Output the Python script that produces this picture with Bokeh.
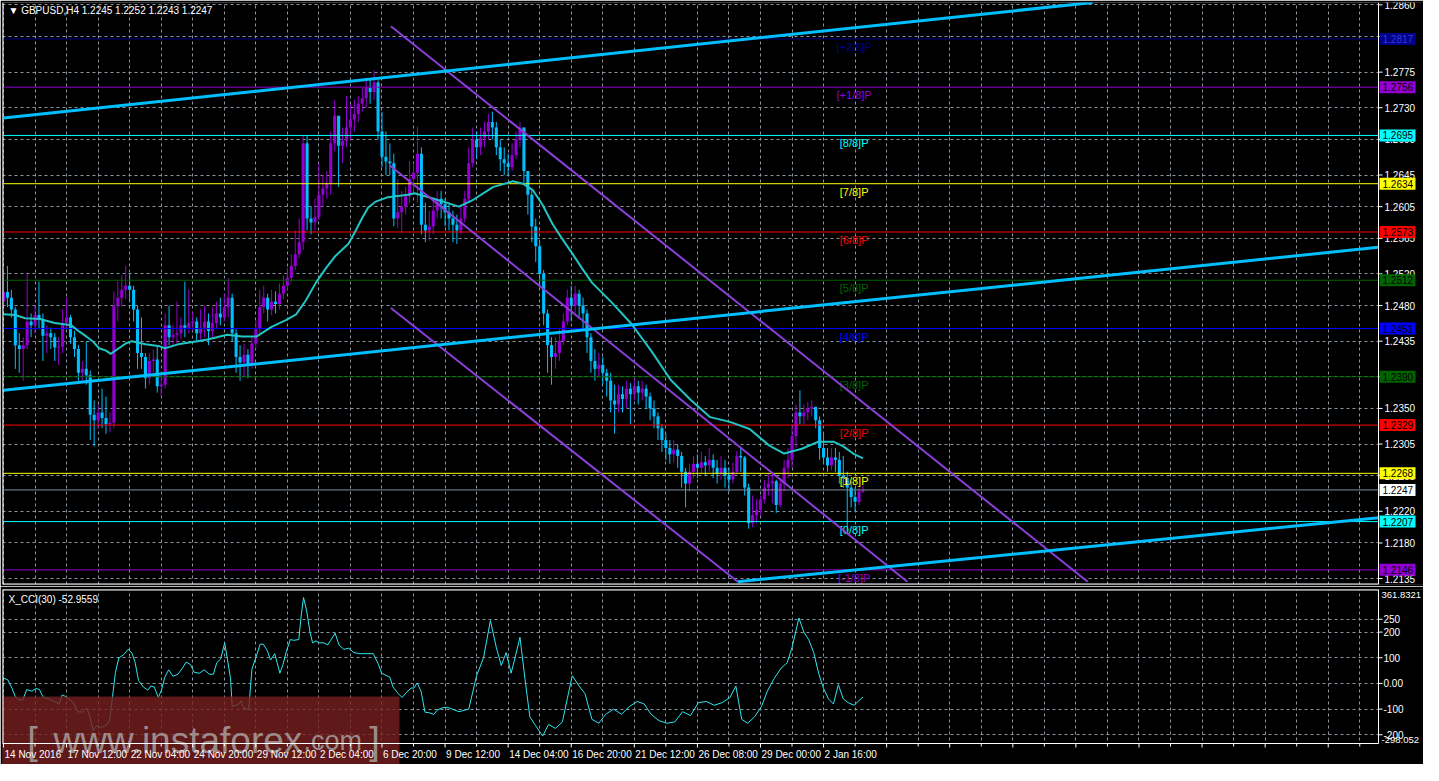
from bokeh.plotting import figure
from bokeh.models import Range1d, FixedTicker, Grid
from bokeh.layouts import column
from bokeh.embed import file_html
from bokeh.resources import INLINE
from bokeh.core.properties import value

# ---------------- data ----------------
first_open = 1.2485
close = [1.2497, 1.2490, 1.2475, 1.2430, 1.2425, 1.2430, 1.2460, 1.2455, 1.2468, 1.2462,
         1.2442, 1.2445, 1.2440, 1.2427, 1.2428, 1.2458, 1.2465, 1.2440, 1.2425, 1.2395,
         1.2400, 1.2392, 1.2342, 1.2335, 1.2345, 1.2338, 1.2330, 1.2332, 1.2480, 1.2490,
         1.2500, 1.2505, 1.2500, 1.2475, 1.2420, 1.2415, 1.2388, 1.2410, 1.2412, 1.2378,
         1.2380, 1.2455, 1.2440, 1.2443, 1.2445, 1.2455, 1.2452, 1.2458, 1.2460, 1.2445,
         1.2452, 1.2460, 1.2448, 1.2458, 1.2470, 1.2465, 1.2478, 1.2490, 1.2445, 1.2415,
         1.2408, 1.2418, 1.2405, 1.2432, 1.2450, 1.2478, 1.2490, 1.2475, 1.2485, 1.2482,
         1.2495, 1.2505, 1.2515, 1.2530, 1.2545, 1.2560, 1.2685, 1.2590, 1.2585, 1.2592,
         1.2620, 1.2628, 1.2635, 1.2685, 1.2720, 1.2682, 1.2688, 1.2705, 1.2715, 1.2722,
         1.2735, 1.2742, 1.2755, 1.2750, 1.2762, 1.2700, 1.2668, 1.2662, 1.2660, 1.2590,
         1.2598, 1.2605, 1.2618, 1.2640, 1.2648, 1.2672, 1.2582, 1.2575, 1.2580, 1.2600,
         1.2615, 1.2608, 1.2598, 1.2590, 1.2582, 1.2575, 1.2590, 1.2615, 1.2660, 1.2690,
         1.2680, 1.2692, 1.2700, 1.2712, 1.2705, 1.2680, 1.2665, 1.2660, 1.2655, 1.2670,
         1.2690, 1.2705, 1.2650, 1.2620, 1.2580, 1.2555, 1.2520, 1.2470, 1.2430, 1.2415,
         1.2420, 1.2435, 1.2460, 1.2490, 1.2480, 1.2495, 1.2480, 1.2470, 1.2440, 1.2410,
         1.2400, 1.2405, 1.2395, 1.2385, 1.2360, 1.2355, 1.2368, 1.2362, 1.2375, 1.2368,
         1.2378, 1.2370, 1.2375, 1.2365, 1.2350, 1.2340, 1.2325, 1.2310, 1.2300, 1.2292,
         1.2298, 1.2290, 1.2270, 1.2255, 1.2270, 1.2280, 1.2275, 1.2282, 1.2278, 1.2285,
         1.2275, 1.2268, 1.2275, 1.2265, 1.2260, 1.2270, 1.2290, 1.2288, 1.2250, 1.2205,
         1.2215, 1.2222, 1.2235, 1.2250, 1.2255, 1.2258, 1.2228, 1.2255, 1.2275, 1.2285,
         1.2315, 1.2345, 1.2340, 1.2345, 1.2350, 1.2352, 1.2335, 1.2300, 1.2288, 1.2278,
         1.2288, 1.2285, 1.2265, 1.2262, 1.2250, 1.2238, 1.2232, 1.2245, 1.2247]
high = [1.2525, 1.2530, 1.2500, 1.2478, 1.2445, 1.2440, 1.2520, 1.2470, 1.2480, 1.2510,
        1.2470, 1.2455, 1.2452, 1.2445, 1.2440, 1.2475, 1.2490, 1.2468, 1.2448, 1.2430,
        1.2410, 1.2435, 1.2398, 1.2360, 1.2355, 1.2375, 1.2365, 1.2345, 1.2498, 1.2512,
        1.2518, 1.2530, 1.2520, 1.2505, 1.2480, 1.2465, 1.2420, 1.2420, 1.2425, 1.2430,
        1.2395, 1.2470, 1.2480, 1.2455, 1.2485, 1.2465, 1.2510, 1.2500, 1.2472, 1.2465,
        1.2475, 1.2480, 1.2470, 1.2478, 1.2485, 1.2490, 1.2495, 1.2515, 1.2495, 1.2450,
        1.2430, 1.2432, 1.2425, 1.2440, 1.2462, 1.2500, 1.2505, 1.2495, 1.2500, 1.2498,
        1.2508, 1.2518, 1.2528, 1.2545, 1.2575, 1.2590, 1.2695, 1.2695, 1.2605, 1.2615,
        1.2660, 1.2645, 1.2650, 1.2700, 1.2740, 1.2720, 1.2705, 1.2745, 1.2735, 1.2740,
        1.2745, 1.2755, 1.2768, 1.2765, 1.2777, 1.2765, 1.2725, 1.2700, 1.2685, 1.2672,
        1.2640, 1.2625, 1.2630, 1.2663, 1.2660, 1.2706, 1.2680, 1.2610, 1.2600, 1.2615,
        1.2625, 1.2625, 1.2615, 1.2610, 1.2600, 1.2595, 1.2605, 1.2625, 1.2680, 1.2705,
        1.2700, 1.2705, 1.2712, 1.2722, 1.2725, 1.2712, 1.2690, 1.2680, 1.2672, 1.2685,
        1.2700, 1.2712, 1.2705, 1.2650, 1.2625, 1.2590, 1.2560, 1.2525, 1.2475, 1.2440,
        1.2440, 1.2450, 1.2470, 1.2500, 1.2505, 1.2505, 1.2500, 1.2490, 1.2475, 1.2445,
        1.2425, 1.2420, 1.2415, 1.2400, 1.2395, 1.2380, 1.2380, 1.2378, 1.2385, 1.2382,
        1.2388, 1.2385, 1.2385, 1.2380, 1.2370, 1.2360, 1.2345, 1.2330, 1.2318, 1.2310,
        1.2310, 1.2305, 1.2295, 1.2275, 1.2280, 1.2290, 1.2292, 1.2295, 1.2290, 1.2300,
        1.2292, 1.2285, 1.2290, 1.2285, 1.2275, 1.2282, 1.2296, 1.2300, 1.2290, 1.2255,
        1.2240, 1.2235, 1.2240, 1.2260, 1.2268, 1.2270, 1.2260, 1.2262, 1.2285, 1.2300,
        1.2330, 1.2355, 1.2373, 1.2355, 1.2358, 1.2360, 1.2352, 1.2340, 1.2320, 1.2300,
        1.2300, 1.2300, 1.2295, 1.2290, 1.2270, 1.2258, 1.2250, 1.2250, 1.2252]
low = [1.2480, 1.2478, 1.2465, 1.2400, 1.2395, 1.2385, 1.2425, 1.2440, 1.2445, 1.2450,
       1.2410, 1.2420, 1.2425, 1.2410, 1.2405, 1.2420, 1.2450, 1.2432, 1.2415, 1.2385,
       1.2385, 1.2380, 1.2310, 1.2302, 1.2325, 1.2325, 1.2318, 1.2320, 1.2325, 1.2460,
       1.2478, 1.2488, 1.2485, 1.2460, 1.2400, 1.2400, 1.2375, 1.2380, 1.2395, 1.2370,
       1.2365, 1.2375, 1.2430, 1.2430, 1.2432, 1.2438, 1.2440, 1.2445, 1.2448, 1.2435,
       1.2435, 1.2440, 1.2430, 1.2440, 1.2450, 1.2455, 1.2460, 1.2465, 1.2435, 1.2395,
       1.2385, 1.2390, 1.2388, 1.2400, 1.2425, 1.2445, 1.2470, 1.2460, 1.2468, 1.2470,
       1.2475, 1.2488, 1.2500, 1.2510, 1.2525, 1.2540, 1.2550, 1.2575, 1.2570, 1.2575,
       1.2588, 1.2605, 1.2615, 1.2620, 1.2675, 1.2630, 1.2660, 1.2680, 1.2690, 1.2700,
       1.2712, 1.2725, 1.2730, 1.2735, 1.2740, 1.2690, 1.2655, 1.2645, 1.2645, 1.2580,
       1.2578, 1.2572, 1.2595, 1.2610, 1.2620, 1.2610, 1.2570, 1.2560, 1.2562, 1.2570,
       1.2590, 1.2590, 1.2580, 1.2575, 1.2560, 1.2558, 1.2570, 1.2585, 1.2610, 1.2655,
       1.2665, 1.2670, 1.2680, 1.2690, 1.2690, 1.2670, 1.2650, 1.2645, 1.2645, 1.2650,
       1.2665, 1.2680, 1.2635, 1.2595, 1.2560, 1.2535, 1.2505, 1.2455, 1.2395, 1.2380,
       1.2400, 1.2410, 1.2430, 1.2455, 1.2460, 1.2470, 1.2465, 1.2450, 1.2420, 1.2395,
       1.2385, 1.2390, 1.2380, 1.2365, 1.2345, 1.2318, 1.2345, 1.2345, 1.2350, 1.2330,
       1.2360, 1.2355, 1.2360, 1.2350, 1.2335, 1.2325, 1.2310, 1.2295, 1.2285, 1.2280,
       1.2282, 1.2275, 1.2250, 1.2225, 1.2245, 1.2262, 1.2262, 1.2268, 1.2265, 1.2270,
       1.2262, 1.2255, 1.2260, 1.2250, 1.2245, 1.2255, 1.2268, 1.2270, 1.2240, 1.2198,
       1.2200, 1.2205, 1.2215, 1.2230, 1.2240, 1.2230, 1.2218, 1.2225, 1.2245, 1.2262,
       1.2275, 1.2300, 1.2330, 1.2330, 1.2335, 1.2340, 1.2325, 1.2285, 1.2280, 1.2270,
       1.2272, 1.2270, 1.2255, 1.2250, 1.2195, 1.2225, 1.2220, 1.2228, 1.2243]

# moving average, read at sample bars
ma_bar = [0, 3, 5.5, 9.25, 13, 17.2, 19.25, 21, 22.6, 24.25, 26, 27.2, 29.25, 31, 32.6, 36,
          39.25, 41, 44.25, 49.25, 51.75, 56.75, 60.5, 64.25, 68, 71.75, 74.25, 76.75, 79.25,
          81.75, 84.25, 87.5, 89.25, 91, 92.5, 94.25, 97.5, 102.5, 104.25, 108.5, 111.75,
          115.5, 119.25, 124.25, 129.25, 131.75, 134.25, 136.75, 139.25, 141.75, 144.25,
          146.75, 149.25, 154.25, 159.25, 164.25, 169.25, 174.25, 179.25, 184.25, 189.25,
          194.25, 198, 202.5, 206.75, 210.5, 213, 215.5, 218]
ma_val = [1.2469, 1.2468, 1.2464, 1.2463, 1.2458, 1.2455, 1.2447, 1.2441, 1.2435, 1.2426,
          1.2423, 1.2419, 1.2426, 1.2432, 1.2435, 1.2431, 1.2429, 1.2426, 1.2431, 1.2435,
          1.2437, 1.2443, 1.2441, 1.2441, 1.2453, 1.2462, 1.2469, 1.2487, 1.2509, 1.2527,
          1.2543, 1.2558, 1.2574, 1.2591, 1.2604, 1.2611, 1.2617, 1.2620, 1.2622, 1.2616,
          1.2611, 1.2605, 1.2614, 1.2630, 1.2637, 1.2634, 1.2626, 1.2607, 1.2583, 1.2564,
          1.2546, 1.2527, 1.2509, 1.2484, 1.2457, 1.2423, 1.2386, 1.2361, 1.2339, 1.2333,
          1.2324, 1.2303, 1.2293, 1.2299, 1.2308, 1.2308, 1.2302, 1.2293, 1.2287]

# CCI(30), read at sample bars
cci_bar = [0.1, 1.1, 2.2, 3.0, 3.8, 4.9, 5.9, 7.2, 8.25, 9.1, 10.1, 11.3, 12.6, 14.1, 14.9,
           15.9, 17.2, 18, 18.8, 20.1, 21.1, 21.75, 22.75, 23.6, 24.7, 25.9, 26.9, 27.6, 28.4,
           29.25, 30.5, 31.6, 32.6, 33.4, 34.25, 35.5, 36.6, 37.4, 38.25, 39.25, 40.1, 40.9,
           41.9, 43, 44.25, 45.5, 46.3, 47.4, 48.4, 49.7, 50.9, 52.2, 53.25, 54.1, 55.1, 56.1,
           56.75, 57.6, 58, 58.8, 59.7, 60.25, 60.9, 62.2, 63, 64.25, 65.1, 65.9, 66.9, 67.75,
           68.8, 70.1, 70.9, 71.75, 72.75, 73.6, 74.9, 75.5, 76.1, 76.9, 77.75, 78.4, 79.25,
           80.1, 81.3, 82.2, 83, 84.1, 85.1, 86.3, 87.6, 88.8, 90.1, 91.75, 93.8, 95.1, 95.9,
           97.2, 98, 98.8, 100.1, 101.1, 102.2, 103.4, 104.1, 104.9, 105.9, 106.9, 108, 109.1,
           110.1, 111.75, 113, 115.5, 118, 120, 121.75, 123.5, 125, 126.25, 127.5, 128.75,
           129.75, 131, 132.25, 133.5, 135, 136.75, 138.25, 140, 141.75, 143, 144.25, 146,
           147.5, 149.25, 151, 152.75, 154.75, 156.75, 158.75, 160.75, 162.5, 164.25, 166.25,
           168.25, 170.25, 172.25, 174.25, 176.25, 178.25, 180.25, 182.25, 184.25, 185.75,
           187.25, 188.75, 190.5, 192.25, 193.75, 195.5, 197.25, 198.75, 200, 201.75, 203,
           204.25, 205.5, 206.75, 208, 209.25, 210.5, 211.75, 213, 214.25, 215.75, 216.75, 218]
cci_val = [20, 14, -20, -52, -64, -64, -24, -30, -20, -23, -55, -58, -68, -80, -45,
           -52, -68, -83, -111, -111, -96, -121, -184, -165, -171, -165, -146, -58, 43,
           99, 112, 133, 118, 81, 11, -14, -26, -10, -14, -55, -25, 24,
           53, 28, 36, 62, 83, 74, 43, 40, 53, 36, 36, 81, 96, 158,
           99, 18, -89, -86, -80, -68, -96, -102, 55, 112, 153, 153, 128, 91,
           116, 40, 74, 125, 171, 168, 171, 263, 335, 282, 200, 158, 166,
           158, 158, 150, 168, 196, 150, 133, 137, 121, 116, 116, 116, 74, 40,
           30, 24, -14, -39, -55, -35, -18, -18, 2, -30, -112, -114, -121,
           -103, -93, -95, -110, -100, 30, 100, 245, 140, 70, 120, 40,
           100, 180, 20, -130, -165, -205, -160, -175, -150, -60, 30, -10,
           -40, -140, -155, -120, -100, -120, -90, -70, -80, -120, -145,
           -155, -150, -110, -125, -75, -70, -85, -75, -55, -10,
           -140, -155, -130, -90, -30, 20, 60, 80, 140, 255, 200,
           170, 120, 40, -20, -60, -80, -5, -60, -75, -85, -70, -53]

date_labels = ["14 Nov 2016", "17 Nov 12:00", "22 Nov 04:00", "24 Nov 20:00", "29 Nov 12:00",
               "2 Dec 04:00", "6 Dec 20:00", "9 Dec 12:00", "14 Dec 04:00", "16 Dec 20:00",
               "21 Dec 12:00", "26 Dec 08:00", "29 Dec 00:00", "2 Jan 16:00"]
price_ticks = [1.2860, 1.2820, 1.2775, 1.2730, 1.2690, 1.2645, 1.2605, 1.2565, 1.2520,
               1.2480, 1.2435, 1.2390, 1.2350, 1.2305, 1.2265, 1.2220, 1.2180, 1.2135]
cci_ticks = [250, 200, 100, 0, -100, -200]
cci_tick_labels = ["250", "200", "100", "0.00", "-100", "-200"]
cci_max, cci_min = 366, -234
cci_max_text = "361.8321"
cci_min_text = "-298.052"

murrey_levels = [1.2817, 1.2756, 1.2695, 1.2634, 1.2573, 1.2512, 1.2451, 1.2390,
                 1.2329, 1.2268, 1.2207, 1.2146]
murrey_names = ["[+2/8]P", "[+1/8]P", "[8/8]P", "[7/8]P", "[6/8]P", "[5/8]P", "[4/8]P",
                "[3/8]P", "[2/8]P", "[1/8]P", "[0/8]P", "[-1/8]P"]
last_price = 1.2247

# trend lines and regression channel: (bar, price) -> (bar, price)
trend_lines = [(0, 1.2717, 276.25, 1.2863), (0, 1.2373, 359, 1.2559), (186.25, 1.2131, 359, 1.2217)]
channel_lines = [(98.25, 1.2833, 275.0, 1.2131), (98.0, 1.2657, 229.25, 1.2131), (98.25, 1.2477, 186.25, 1.2131)]

title_text = "\u25bc GBPUSD,H4  1.2245 1.2252 1.2243 1.2247"
cci_title = "X_CCI(30) -52.9559"

# ---------------- styles / geometry ----------------
FONT = value("Liberation Sans")
BULL = "#9400D3"
BEAR = "#00BFFF"
GRID = "#8a949e"
MURREY_COLORS = ["#00008B", "#9400D3", "#00FFFF", "#FFFF00", "#FF0000", "#006400", "#0000FF",
                 "#006400", "#FF0000", "#FFFF00", "#00FFFF", "#9400D3"]
MURREY_TEXT = ["#3a3ad0"] + ["#000000"] * 11

FRAME_W = 1421          # whole frame, bars area + price strip
BARS_W = 1376           # pixels used by the bar area
X0, X1 = -0.25, 348.75  # bar area in bar units
PPB = BARS_W / (X1 - X0)
XE = X0 + FRAME_W / PPB
Y0, Y1 = 1.21275, 1.2863
MAIN_H = 582
CCI_PANEL_H = 154
CCI_STRIP_H = 21
UPP = (cci_max - cci_min) / CCI_PANEL_H
CY0 = cci_min - CCI_STRIP_H * UPP

n = len(close)
idx = list(range(n))
opens = [first_open] + close[:-1]
col = [BULL if c >= o else BEAR for o, c in zip(opens, close)]
tops = [max(o, c) for o, c in zip(opens, close)]
bots = [min(o, c) for o, c in zip(opens, close)]

major_x = list(range(0, 349, 16))
minor_x = list(range(8, 349, 16))
all_x = sorted(major_x + minor_x)


def base_fig(h, yr, top, bottom):
    f = figure(frame_width=FRAME_W, frame_height=h, x_range=Range1d(X0, XE), y_range=yr,
               output_backend="svg", toolbar_location=None, x_axis_location=None,
               y_axis_location=None, background_fill_color="black", border_fill_color="black",
               min_border_left=2, min_border_right=0, min_border_top=top, min_border_bottom=bottom)
    f.outline_line_color = None
    # drop the default grids; the dashed chart grids are added explicitly below
    f.center = [c for c in f.center if not isinstance(c, Grid)]
    return f


# ---------------- main price chart ----------------
p = base_fig(MAIN_H, Range1d(Y0, Y1), 2, 2)
p.add_layout(Grid(dimension=1, ticker=FixedTicker(ticks=price_ticks),
                  grid_line_color=GRID, grid_line_dash="3 3"))
p.add_layout(Grid(dimension=0, ticker=FixedTicker(ticks=major_x, minor_ticks=minor_x),
                  grid_line_color=GRID, grid_line_dash="3 3",
                  minor_grid_line_color=GRID, minor_grid_line_dash="3 3"))

# candles
p.segment(x0=idx, y0=low, x1=idx, y1=high, line_color=col, line_width=1)
p.vbar(x=idx, width=0.78, top=tops, bottom=bots, fill_color=col, line_color=None)

# Murrey math levels and current price line
p.segment(x0=[X0] * len(murrey_levels), y0=murrey_levels, x1=[X1] * len(murrey_levels),
          y1=murrey_levels, line_color=MURREY_COLORS, line_width=1)
p.segment(x0=[X0], y0=[last_price], x1=[X1], y1=[last_price], line_color="#8090a0", line_width=1)
p.text(x=[215.75] * len(murrey_levels), y=murrey_levels, text=murrey_names,
       text_color=MURREY_COLORS, text_font_size="11px", text_font=FONT,
       text_align="center", text_baseline="top", y_offset=2)

# moving average
p.line(ma_bar, ma_val, line_color="#22C4C4", line_width=2)
# regression channel
for x0, y0, x1, y1 in channel_lines:
    p.line([x0, x1], [y0, y1], line_color="#8B3FD9", line_width=2)
# trend lines
for x0, y0, x1, y1 in trend_lines:
    p.line([x0, x1], [y0, y1], line_color="#00BFFF", line_width=3)

# price strip (right axis)
p.quad(left=[X1], right=[XE + 1], bottom=[Y0 - 1], top=[Y1 + 1], fill_color="black", line_color=None)
p.segment(x0=[X1], y0=[Y0], x1=[X1], y1=[Y1], line_color="white", line_width=1)
p.segment(x0=[X0], y0=[Y0], x1=[X0], y1=[Y1], line_color="white", line_width=2)
p.segment(x0=[X0], y0=[Y0], x1=[X1], y1=[Y0], line_color="white", line_width=2)
p.segment(x0=[X1] * len(price_ticks), y0=price_ticks, x1=[X1 + 4 / PPB] * len(price_ticks),
          y1=price_ticks, line_color="white", line_width=1)
p.text(x=[X1] * len(price_ticks), y=price_ticks, text=[f"{t:.4f}" for t in price_ticks],
       x_offset=6, text_color="white", text_font=FONT, text_font_size="10px",
       text_align="left", text_baseline="middle")
box_lv = murrey_levels + [last_price]
box_c = MURREY_COLORS + ["#FFFFFF"]
box_tc = MURREY_TEXT + ["#000000"]
p.rect(x=[X1 + 19 / PPB] * len(box_lv), y=box_lv, width=36, height=12,
       width_units="screen", height_units="screen", fill_color=box_c, line_color=None)
p.text(x=[X1] * len(box_lv), y=box_lv, text=[f"{v:.4f}" for v in box_lv], x_offset=4,
       text_color=box_tc, text_font=FONT, text_font_size="10px",
       text_align="left", text_baseline="middle")
p.text(x=[X0], y=[Y1], text=[title_text], x_offset=6, y_offset=2, text_color="white",
       text_font=FONT, text_font_size="10px", text_align="left", text_baseline="top")

# ---------------- CCI panel ----------------
q = base_fig(CCI_PANEL_H + CCI_STRIP_H, Range1d(CY0, cci_max), 3, 0)
q.add_layout(Grid(dimension=1, ticker=FixedTicker(ticks=cci_ticks),
                  grid_line_color=GRID, grid_line_dash="3 3"))
q.add_layout(Grid(dimension=0, ticker=FixedTicker(ticks=major_x, minor_ticks=minor_x),
                  grid_line_color=GRID, grid_line_dash="3 3",
                  minor_grid_line_color=GRID, minor_grid_line_dash="3 3"))

q.line(cci_bar, cci_val, line_color="#2EE6F0", line_width=1)

# strips
q.quad(left=[X0 - 1, X1], right=[XE + 1, XE + 1], bottom=[CY0 - 50, CY0 - 50],
       top=[cci_min, cci_max + 50], fill_color="black", line_color=None)

# watermark
q.quad(left=[X0 - 1], right=[X0 + 397 / PPB], bottom=[CY0 - 50], top=[cci_min + 47 * UPP],
       fill_color="#771f1f", fill_alpha=0.8, line_color=None)
wm_y = cci_min + 3 * UPP
wm_kw = dict(text_color="#a8a0a0", text_alpha=0.85, text_font=FONT, text_baseline="alphabetic")
q.text(x=[X0 + 30 / PPB], y=[wm_y], text=["["], text_font_size="38px", text_align="center", **wm_kw)
q.text(x=[X0 + 51 / PPB], y=[wm_y], text=["www.instaforex"], text_font_size="37px",
       text_align="left", **wm_kw)
q.text(x=[X0 + 301 / PPB], y=[wm_y], text=[".com"], text_font_size="27px", text_align="left", **wm_kw)
q.text(x=[X0 + 372 / PPB], y=[wm_y], text=["]"], text_font_size="38px", text_align="center", **wm_kw)

# frame lines and axes
q.segment(x0=[X1], y0=[cci_min], x1=[X1], y1=[cci_max], line_color="white", line_width=1)
q.segment(x0=[X0], y0=[cci_min], x1=[X0], y1=[cci_max], line_color="white", line_width=2)
q.segment(x0=[X0], y0=[cci_max], x1=[X1], y1=[cci_max], line_color="white", line_width=2)
q.segment(x0=[X0], y0=[cci_min], x1=[X1], y1=[cci_min], line_color="white", line_width=1)
q.segment(x0=[X1] * len(cci_ticks), y0=cci_ticks, x1=[X1 + 4 / PPB] * len(cci_ticks),
          y1=cci_ticks, line_color="white", line_width=1)
q.text(x=[X1] * len(cci_ticks), y=cci_ticks, text=cci_tick_labels, x_offset=5,
       text_color="white", text_font=FONT, text_font_size="10px",
       text_align="left", text_baseline="middle")
q.text(x=[X1, X1], y=[cci_max, cci_min], text=[cci_max_text, cci_min_text], x_offset=3,
       y_offset=[2, -1], text_color="white", text_font=FONT, text_font_size="9.5px",
       text_align="left", text_baseline=["top", "bottom"])
# time axis
tick_len = [4 * UPP if t in major_x else 3 * UPP for t in all_x]
q.segment(x0=all_x, y0=[cci_min] * len(all_x), x1=all_x,
          y1=[cci_min - L for L in tick_len], line_color="white", line_width=1)
q.text(x=major_x[:len(date_labels)], y=[cci_min] * len(date_labels), text=date_labels,
       x_offset=1, y_offset=5, text_color="white", text_font=FONT, text_font_size="10px",
       text_align="left", text_baseline="top")
q.text(x=[X0], y=[cci_max], text=[cci_title], x_offset=6, y_offset=4, text_color="white",
       text_font=FONT, text_font_size="10px", text_align="left", text_baseline="top")

layout = column(p, q)
open("out.html", "w").write(file_html(layout, INLINE))
